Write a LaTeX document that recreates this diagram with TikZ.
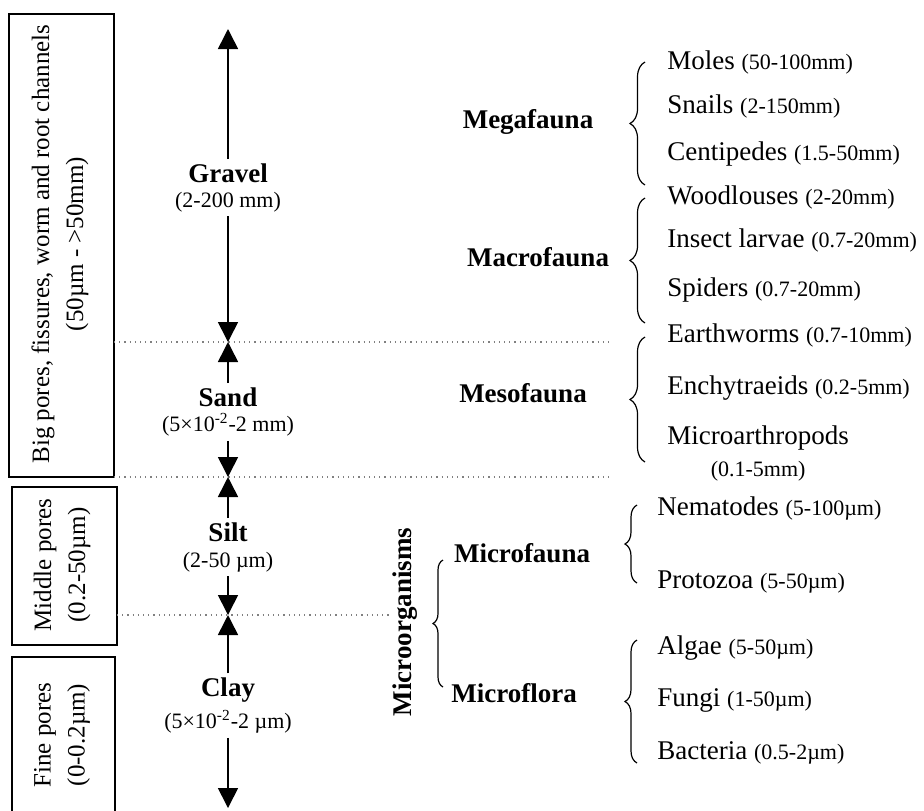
\documentclass[tikz,border=0pt]{standalone}
\usepackage{fontspec}
\setmainfont{Liberation Serif}
\usetikzlibrary{arrows.meta,decorations.pathreplacing}
\newcommand{\sz}[1]{{\fontsize{11}{13}\selectfont #1}}
\begin{document}
\begin{tikzpicture}[x=0.5pt,y=-0.5pt,
	arr/.style={-{Triangle[width=10pt,length=10pt]},line width=0.8pt},
	box/.style={line width=0.8pt},
	sep/.style={gray,dotted,line width=0.6pt},
	brc/.style={decorate,decoration={brace,amplitude=#1},line width=0.6pt},
	lbl/.style={font=\fontsize{13.5}{15}\selectfont\bfseries,inner sep=2pt},
	rng/.style={font=\fontsize{11}{13}\selectfont,inner sep=2pt},
	item/.style={anchor=west,inner sep=0pt,font=\fontsize{13.5}{16}\selectfont},
	boxtxt/.style={rotate=90,align=center,font=\fontsize{12.5}{17}\selectfont}]
	\useasboundingbox (0,0) rectangle (924,810);
	% pore classes
	\draw[box] (9,14) rectangle (114,477);
	\draw[box] (12,487) rectangle (117,645);
	\draw[box] (12,812) |- (115,657) -- (115,812);
	\node[boxtxt] (big) at (60,244) {Big pores, fissures, worm and root channels\\(50µm - >50mm)};
	\node[boxtxt] (mid) at (62,565) {Middle pores\\(0.2-50µm)};
	\node[boxtxt] (fine) at (62,735) {Fine pores\\(0-0.2µm)};
	% size boundaries
	\draw[sep] (114,342) -- (610,342);
	\draw[sep] (114,477) -- (610,477);
	\draw[sep] (117,615) -- (392,615);
	\coordinate (top) at (228,29);
	\coordinate (b1) at (228,342);
	\coordinate (b2) at (228,477);
	\coordinate (b3) at (228,615);
	\coordinate (bot) at (228,808);
	% particle sizes
	\node[lbl] (gravel) at (228,173) {Gravel};
	\node[rng] (gravelsz) at (228,202) {(2-200 mm)};
	\node[lbl] (sand) at (228,397) {Sand};
	\node[rng] (sandsz) at (228,425) {(5×10\textsuperscript{-2}-2 mm)};
	\node[lbl] (silt) at (228,532) {Silt};
	\node[rng] (siltsz) at (228,562) {(2-50 µm)};
	\node[lbl] (clay) at (228,690) {Clay};
	\node[rng] (claysz) at (228,722) {(5×10\textsuperscript{-2}-2 µm)};
	\draw[arr] (gravel) -- (top);
	\draw[arr] (gravelsz) -- (b1);
	\draw[arr] (sand) -- (b1);
	\draw[arr] (sandsz) -- (b2);
	\draw[arr] (silt) -- (b2);
	\draw[arr] (siltsz) -- (b3);
	\draw[arr] (clay) -- (b3);
	\draw[arr] (claysz) -- (bot);
	% soil fauna groups
	\node[lbl] (mega) at (528,122) {Megafauna};
	\node[lbl] (macro) at (538,257) {Macrofauna};
	\node[lbl] (meso) at (523,393) {Mesofauna};
	\node[lbl] (mfauna) at (522,553) {Microfauna};
	\node[lbl] (mflora) at (514,693) {Microflora};
	\node[lbl,rotate=90] (micro) at (405,622) {Microorganisms};
	\draw[brc=7.5pt] (645,185) -- (645,62);
	\draw[brc=7.5pt] (645,323) -- (645,198);
	\draw[brc=7.5pt] (645,462) -- (645,337);
	\draw[brc=6pt] (637,583) -- (637,505);
	\draw[brc=6pt] (637,763) -- (637,640);
	\draw[brc=5pt] (443,687) -- (443,560);
	% organisms
	\node[item] (moles) at (667,62) {Moles \sz{(50-100mm)}};
	\node[item] (snails) at (667,106) {Snails \sz{(2-150mm)}};
	\node[item] (centi) at (667,154) {Centipedes \sz{(1.5-50mm)}};
	\node[item] (woodl) at (667,197) {Woodlouses \sz{(2-20mm)}};
	\node[item] (larvae) at (667,240) {Insect larvae \sz{(0.7-20mm)}};
	\node[item] (spiders) at (667,290) {Spiders \sz{(0.7-20mm)}};
	\node[item] (earthw) at (667,335) {Earthworms \sz{(0.7-10mm)}};
	\node[item] (enchy) at (667,388) {Enchytraeids \sz{(0.2-5mm)}};
	\node[item,align=center] (microar) at (667,453) {Microarthropods\\\sz{(0.1-5mm)}};
	\node[item] (nemat) at (657,508) {Nematodes \sz{(5-100µm)}};
	\node[item] (protoz) at (657,582) {Protozoa \sz{(5-50µm)}};
	\node[item] (algae) at (657,648) {Algae \sz{(5-50µm)}};
	\node[item] (fungi) at (657,700) {Fungi \sz{(1-50µm)}};
	\node[item] (bact) at (657,753) {Bacteria \sz{(0.5-2µm)}};
\end{tikzpicture}
\end{document}
